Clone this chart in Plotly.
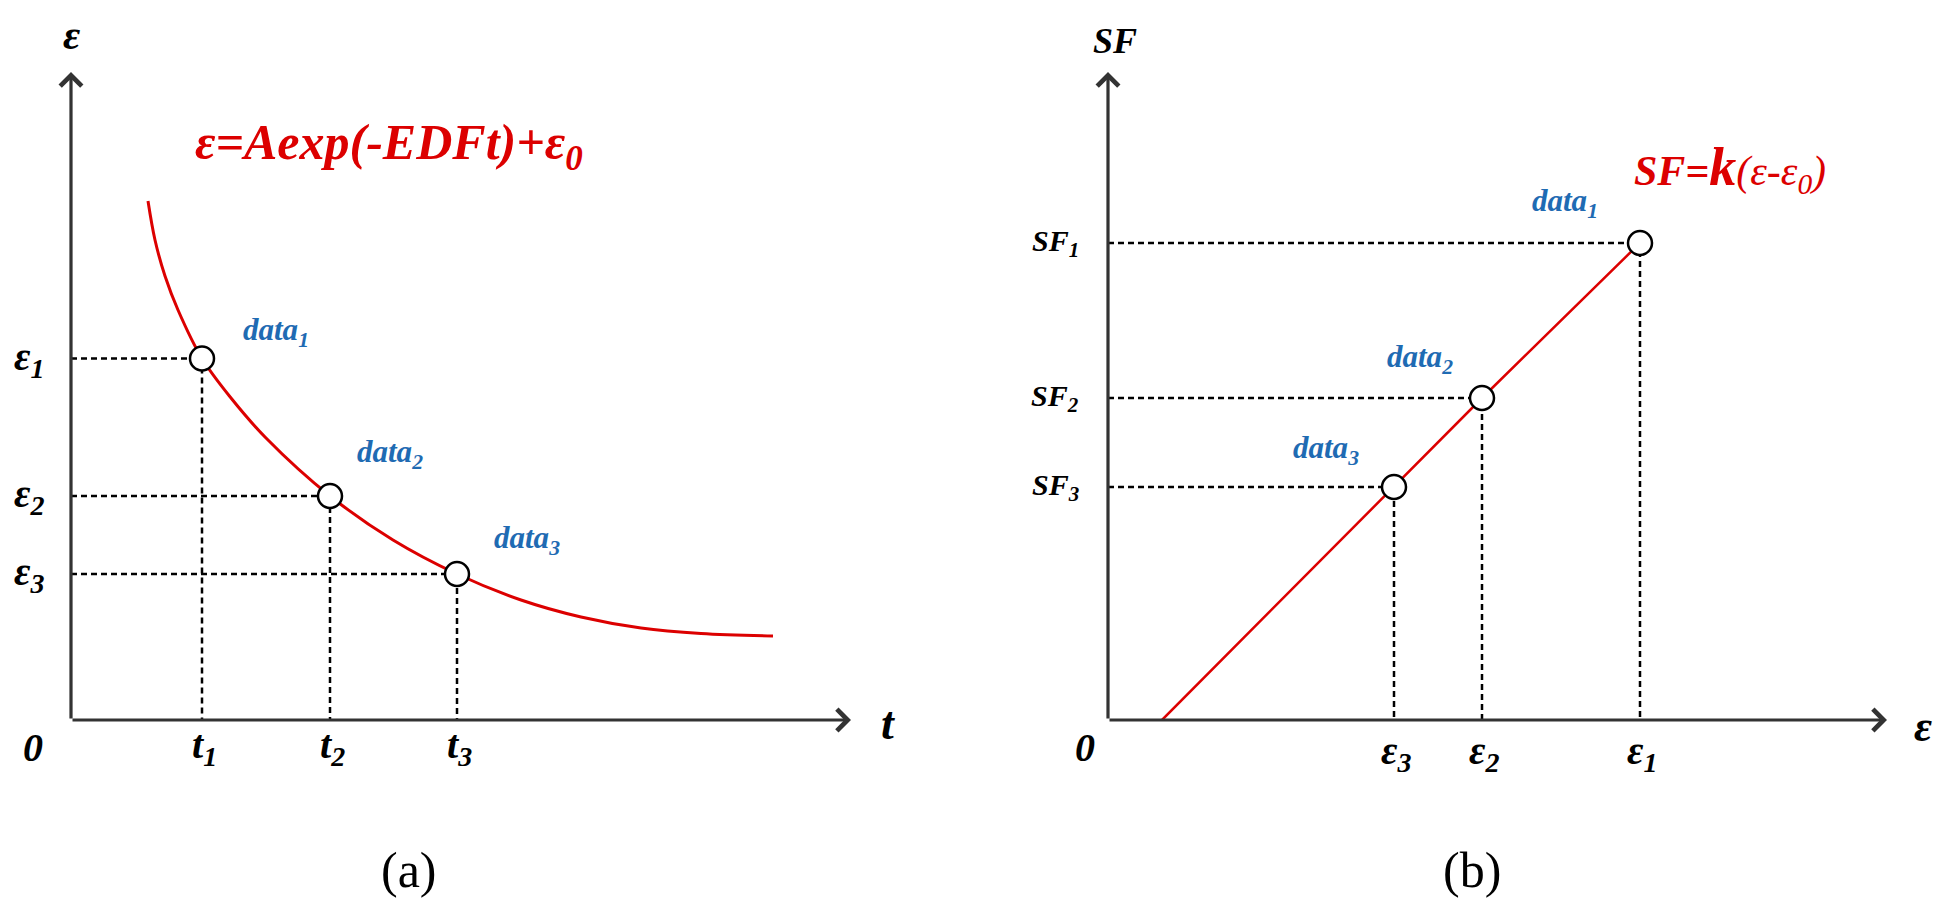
import plotly.graph_objects as go

# ---- panel (a): strain decay curve (units: arbitrary) ----
t_pts = [1.31, 2.59, 3.86]
eps_pts = [3.615, 2.24, 1.46]
t_labels = ['t<sub>1</sub>', 't<sub>2</sub>', 't<sub>3</sub>']
eps_labels = ['ε<sub>1</sub>', 'ε<sub>2</sub>', 'ε<sub>3</sub>']
data_labels = ['data<sub>1</sub>', 'data<sub>2</sub>', 'data<sub>3</sub>']

curve_t = [0.77, 0.84, 0.94, 1.07, 1.31, 1.60, 1.95, 2.59,
           3.22, 3.86, 4.50, 5.10, 5.70, 6.30, 7.02]
curve_eps = [5.19, 4.80, 4.44, 4.10, 3.615, 3.22, 2.82, 2.24,
             1.80, 1.46, 1.20, 1.03, 0.92, 0.865, 0.84]

# ---- panel (b): SF vs strain ----
eps_b = [5.32, 3.74, 2.86]
sf_b = [4.77, 3.22, 2.33]
eps0_b = 0.54
sf_labels = ['SF<sub>1</sub>', 'SF<sub>2</sub>', 'SF<sub>3</sub>']

W, H = 1946, 920
RED = '#dc0000'
BLUE = '#1f6bb3'
AX = '#333333'
SERIF = 'Liberation Serif'

fig = go.Figure()

# dashed guide lines, panel (a)
for t, e in zip(t_pts, eps_pts):
    fig.add_trace(go.Scatter(x=[0, t, t], y=[e, e, 0], mode='lines',
                             line=dict(color='black', width=2.5, dash='6px,4px'),
                             xaxis='x', yaxis='y', hoverinfo='skip'))
fig.add_trace(go.Scatter(x=curve_t, y=curve_eps, mode='lines',
                         line=dict(color=RED, width=3, shape='spline', smoothing=1.0),
                         xaxis='x', yaxis='y'))
fig.add_trace(go.Scatter(x=t_pts, y=eps_pts, mode='markers',
                         marker=dict(size=24, color='white', line=dict(color='black', width=2.5)),
                         xaxis='x', yaxis='y', cliponaxis=False))

# dashed guide lines, panel (b)
for e, s in zip(eps_b, sf_b):
    fig.add_trace(go.Scatter(x=[0, e, e], y=[s, s, 0], mode='lines',
                             line=dict(color='black', width=2.5, dash='6px,4px'),
                             xaxis='x2', yaxis='y2', hoverinfo='skip'))
fig.add_trace(go.Scatter(x=[eps0_b] + eps_b[::-1], y=[0] + sf_b[::-1], mode='lines',
                         line=dict(color=RED, width=2.5),
                         xaxis='x2', yaxis='y2'))
fig.add_trace(go.Scatter(x=eps_b, y=sf_b, mode='markers',
                         marker=dict(size=24, color='white', line=dict(color='black', width=2.5)),
                         xaxis='x2', yaxis='y2', cliponaxis=False))

ann = []

def txt(text, x, y, xref, yref, size, color='black', xs=0, ys=0, bold=True, italic=True):
    ann.append(dict(text=text, x=x, y=y, xref=xref, yref=yref, showarrow=False,
                    xshift=xs, yshift=ys, xanchor='center', yanchor='middle',
                    font=dict(family=SERIF, size=size, color=color,
                              weight='bold' if bold else 'normal',
                              style='italic' if italic else 'normal')))

def axis_arrow(xref, yref, x, y):
    ann.append(dict(x=x, y=y, ax=0, ay=0, xref=xref, yref=yref, axref=xref, ayref=yref,
                    text='', showarrow=True, arrowhead=4, arrowsize=1.3,
                    arrowwidth=3.2, arrowcolor=AX))

# axes with arrow heads
axis_arrow('x', 'y', 7.80, 0)
axis_arrow('x', 'y', 0, 6.48)
axis_arrow('x2', 'y2', 7.79, 0)
axis_arrow('x2', 'y2', 0, 6.48)

# panel (a) labels
txt('ε', 0, 6.48, 'x', 'y', 42, ys=37)
txt('t', 7.80, 0, 'x', 'y', 46, xs=37, ys=-3)
txt('0', 0, 0, 'x', 'y', 40, xs=-38, ys=-27)
for t, lab in zip(t_pts, t_labels):
    txt(lab, t, 0, 'x', 'y', 40, xs=2, ys=-27)
for e, lab in zip(eps_pts, eps_labels):
    txt(lab, 0, e, 'x', 'y', 40, xs=-42)
for (t, e, lab, dx, dy) in zip(t_pts, eps_pts, data_labels, [74, 60, 70], [27, 42, 34]):
    txt(lab, t, e, 'x', 'y', 31, color=BLUE, xs=dx, ys=dy)
txt('ε=Aexp(-EDFt)+ε<sub>0</sub>', 381 / W, 1 - 138 / H, 'paper', 'paper', 50, color=RED)
txt('(a)', 401 / W, 1 - 862 / H, 'paper', 'paper', 50, bold=False, italic=False)

# panel (b) labels
txt('SF', 0, 6.48, 'x2', 'y2', 36, xs=7, ys=31)
txt('ε', 7.79, 0, 'x2', 'y2', 44, xs=36, ys=-6)
txt('0', 0, 0, 'x2', 'y2', 40, xs=-23, ys=-27)
for e, lab in zip(eps_b, eps_labels):
    txt(lab, e, 0, 'x2', 'y2', 40, xs=2, ys=-33)
for s, lab in zip(sf_b, sf_labels):
    txt(lab, 0, s, 'x2', 'y2', 30, xs=-53)
for (e, s, lab, dx, dy) in zip(eps_b, sf_b, data_labels, [-75, -62, -68], [40, 39, 37]):
    txt(lab, e, s, 'x2', 'y2', 31, color=BLUE, xs=dx, ys=dy)
txt('SF=<span style="font-size:54px">k</span><span style="font-weight:normal">(ε-ε<sub>0</sub>)</span>',
    1722 / W, 1 - 160 / H, 'paper', 'paper', 42, color=RED)
txt('(b)', 1464 / W, 1 - 862 / H, 'paper', 'paper', 50, bold=False, italic=False)

hidden = dict(visible=False, showgrid=False, zeroline=False, fixedrange=True)
ydom = [1 - 712 / H, 1 - 64 / H]

fig.update_layout(
    width=W, height=H,
    margin=dict(l=0, r=0, t=0, b=0),
    paper_bgcolor='white', plot_bgcolor='white',
    showlegend=False,
    annotations=ann,
    xaxis=dict(domain=[63 / W, 843 / W], range=[0, 7.80], **hidden),
    yaxis=dict(domain=ydom, range=[0, 6.48], **hidden),
    xaxis2=dict(domain=[1100 / W, 1879 / W], range=[0, 7.79], anchor='y2', **hidden),
    yaxis2=dict(domain=ydom, range=[0, 6.48], anchor='x2', **hidden),
)

fig.write_html("out.html")
